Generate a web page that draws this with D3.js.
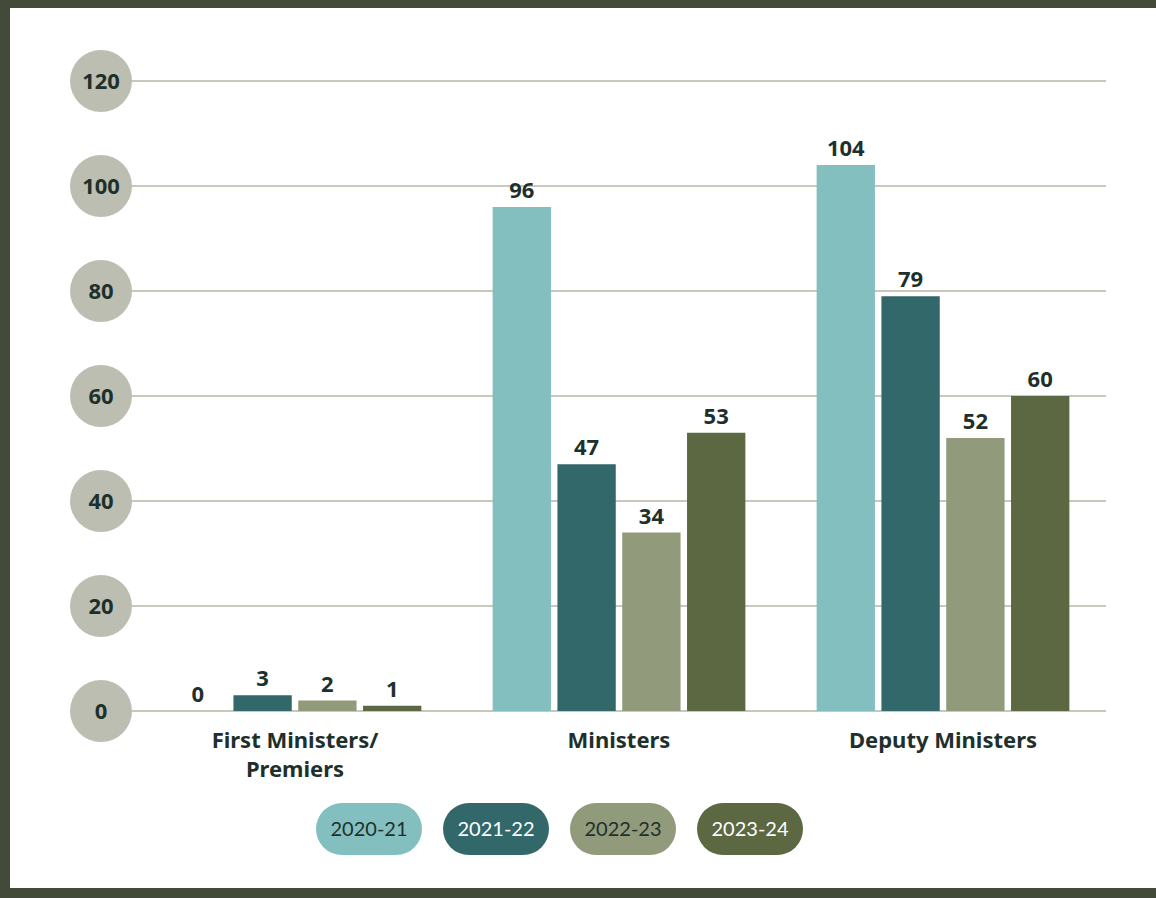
<!DOCTYPE html>
<html>
<head>
<meta charset="utf-8">
<script src="https://cdn.jsdelivr.net/npm/d3@7"></script>
<style>
  body { margin: 0; background: #fff; }
  svg { display: block; }
</style>
</head>
<body>
<div id="chart"></div>
<script>
// data
var categories = ["First Ministers/\nPremiers", "Ministers", "Deputy Ministers"];
var years = ["2020-21", "2021-22", "2022-23", "2023-24"];
var values2020 = [0, 96, 104];
var values2021 = [3, 47, 79];
var values2022 = [2, 34, 52];
var values2023 = [1, 53, 60];
var yTicks = [0, 20, 40, 60, 80, 100, 120];

var seriesValues = [values2020, values2021, values2022, values2023];
var colors = ["#84bfc0", "#33686a", "#919a7a", "#5b6841"];
var legendText = ["#1e302b", "#ffffff", "#1e302b", "#ffffff"];
var ink = "#1e302b";

var width = 1156, height = 898;

var svg = d3.select("#chart").append("svg")
    .attr("width", width)
    .attr("height", height);

// frame
svg.append("rect").attr("x", 0).attr("y", 0).attr("width", width).attr("height", height).attr("fill", "#434a3a");
svg.append("rect").attr("x", 10).attr("y", 8).attr("width", width - 10).attr("height", 880).attr("fill", "#ffffff");

var x0 = d3.scaleBand().domain(categories).range([133, 1105]).paddingInner(0.22).paddingOuter(0.11);
var x1 = d3.scaleBand().domain(years).range([0, x0.bandwidth()]).paddingInner(0.1);
var y = d3.scaleLinear().domain([0, 120]).range([711, 81]);

// gridlines
svg.append("g").selectAll("line")
    .data(yTicks)
    .enter().append("line")
    .attr("x1", 120)
    .attr("x2", 1106)
    .attr("y1", function(d) { return y(d); })
    .attr("y2", function(d) { return y(d); })
    .attr("stroke", "#c8c9bb")
    .attr("stroke-width", 2);

// y axis: numbers inside grey circles
var ticks = svg.append("g").selectAll("g")
    .data(yTicks)
    .enter().append("g")
    .attr("transform", function(d) { return "translate(101," + y(d) + ")"; });
ticks.append("circle").attr("r", 31).attr("fill", "#bcbeb1");
ticks.append("text")
    .attr("text-anchor", "middle")
    .attr("dy", "0.36em")
    .attr("font-family", "'Noto Sans', sans-serif")
    .attr("font-weight", 700)
    .attr("font-size", 22)
    .attr("fill", ink)
    .text(function(d) { return d; });

// bars
var groups = svg.append("g").selectAll("g")
    .data(categories)
    .enter().append("g")
    .attr("transform", function(d) { return "translate(" + x0(d) + ",0)"; });

groups.each(function(cat, ci) {
    var g = d3.select(this);
    var rows = years.map(function(yr, si) { return { year: yr, value: seriesValues[si][ci], color: colors[si] }; });

    g.selectAll("rect")
        .data(rows)
        .enter().append("rect")
        .attr("x", function(d) { return x1(d.year); })
        .attr("y", function(d) { return y(d.value); })
        .attr("width", x1.bandwidth())
        .attr("height", function(d) { return y(0) - y(d.value); })
        .attr("fill", function(d) { return d.color; });

    g.selectAll("text")
        .data(rows)
        .enter().append("text")
        .attr("x", function(d) { return x1(d.year) + x1.bandwidth() / 2; })
        .attr("y", function(d) { return y(d.value) - 9; })
        .attr("text-anchor", "middle")
        .attr("font-family", "'Noto Sans', sans-serif")
        .attr("font-weight", 700)
        .attr("font-size", 22)
        .attr("fill", ink)
        .text(function(d) { return d.value; });
});

// category labels
svg.append("g").selectAll("text")
    .data(categories)
    .enter().append("text")
    .attr("x", function(d) { return x0(d) + x0.bandwidth() / 2; })
    .attr("y", 748)
    .attr("text-anchor", "middle")
    .attr("font-family", "'Noto Sans', sans-serif")
    .attr("font-weight", 700)
    .attr("font-size", 22)
    .attr("fill", ink)
    .each(function(d) {
        var t = d3.select(this);
        d.split("\n").forEach(function(line, i) {
            t.append("tspan")
                .attr("x", x0(d) + x0.bandwidth() / 2)
                .attr("dy", i === 0 ? 0 : 29)
                .text(line);
        });
    });

// legend pills
var legend = svg.append("g").selectAll("g")
    .data(years)
    .enter().append("g")
    .attr("transform", function(d, i) { return "translate(" + (316 + i * 127) + ",803)"; });
legend.append("rect")
    .attr("width", 106)
    .attr("height", 52)
    .attr("rx", 26)
    .attr("fill", function(d, i) { return colors[i]; });
legend.append("text")
    .attr("x", 53)
    .attr("y", 26)
    .attr("dy", "0.36em")
    .attr("text-anchor", "middle")
    .attr("font-family", "Lato, sans-serif")
    .attr("font-size", 20)
    .attr("fill", function(d, i) { return legendText[i]; })
    .text(function(d) { return d; });
</script>
</body>
</html>
